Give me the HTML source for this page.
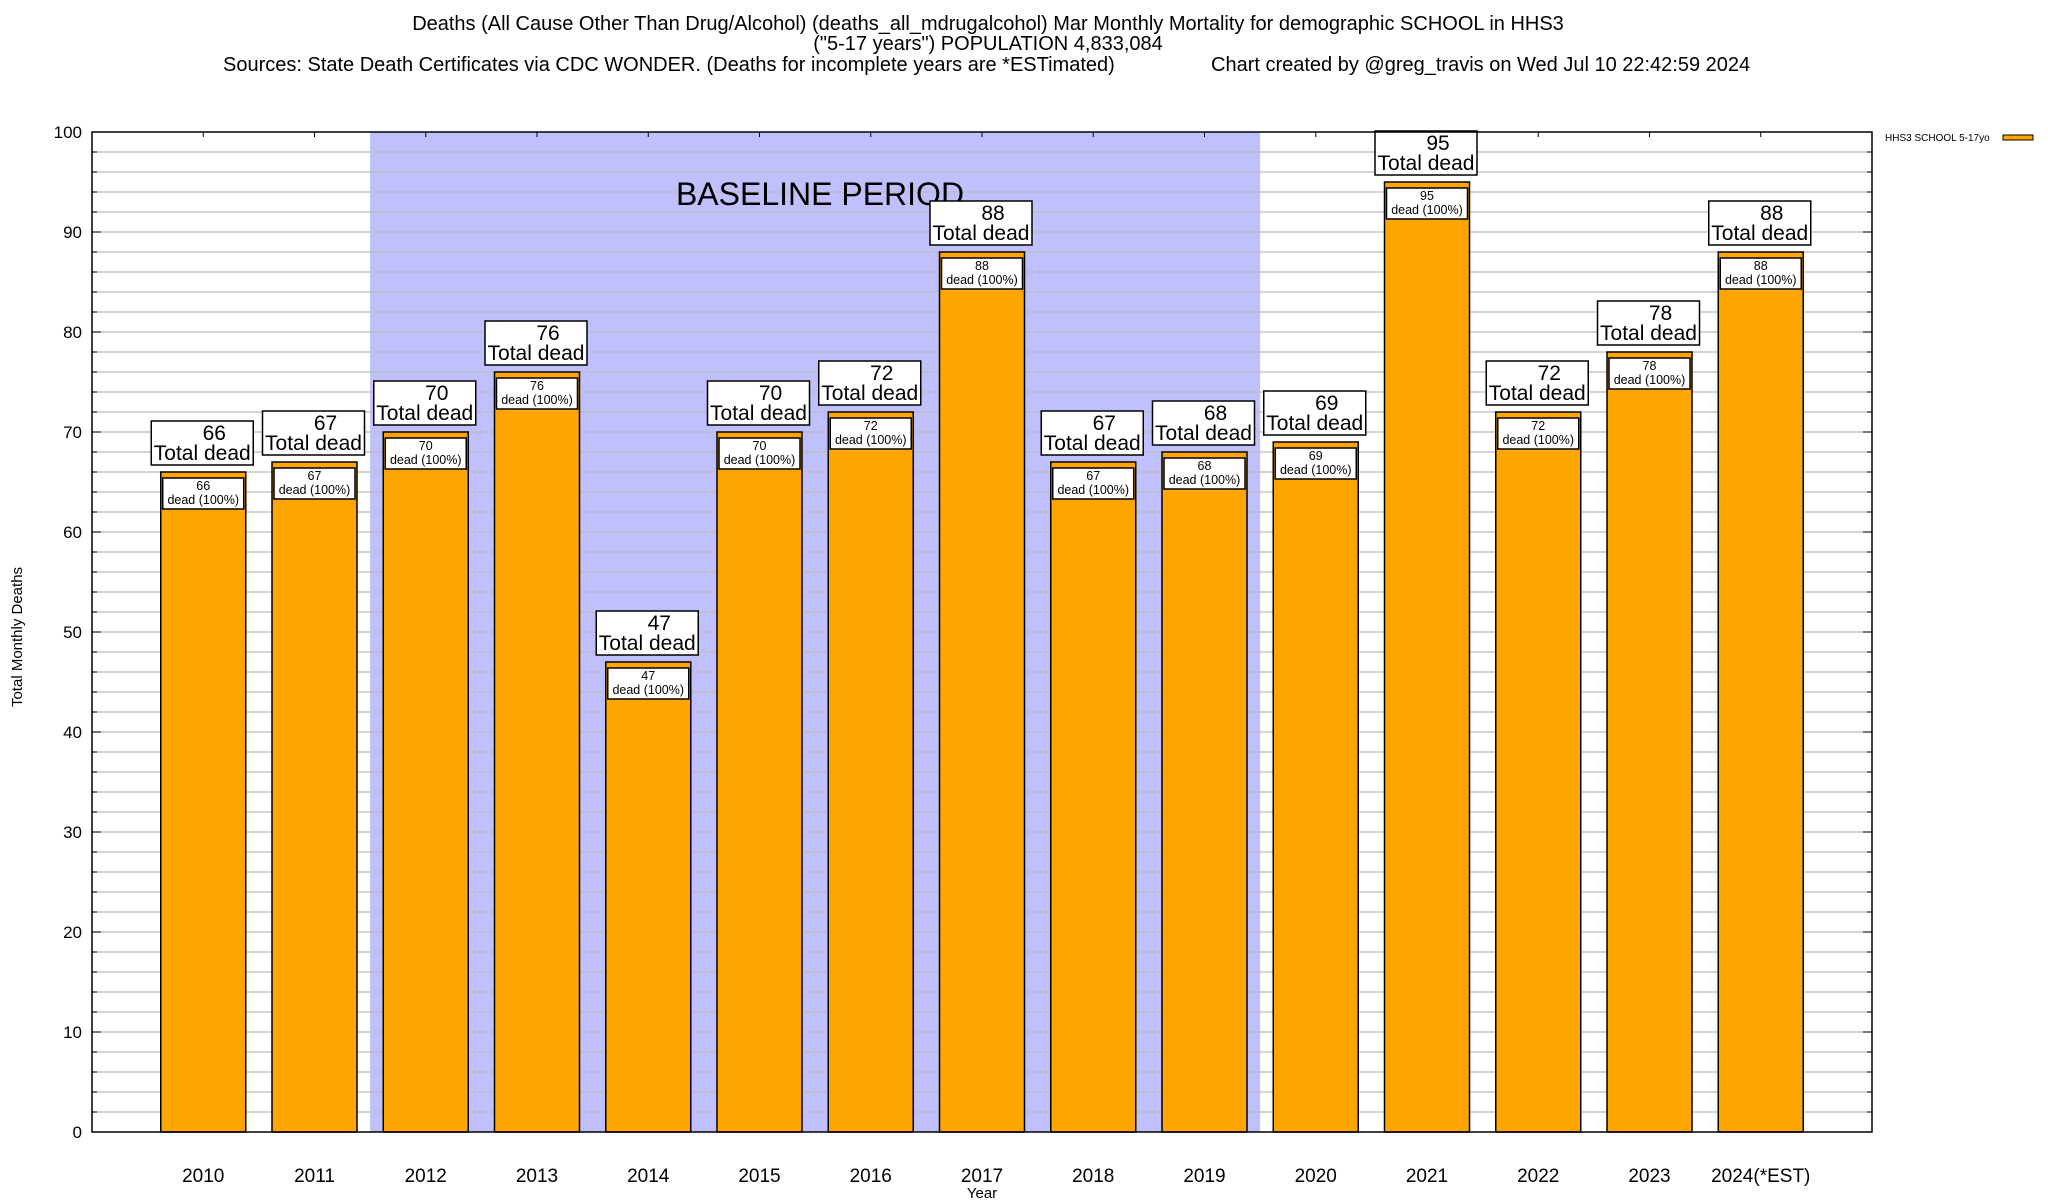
<!DOCTYPE html>
<html><head><meta charset="utf-8">
<style>
html,body{margin:0;padding:0;background:#fff;}
svg{display:block;font-family:"Liberation Sans",Arial,sans-serif;}
</style></head>
<body>
<svg id="chart" width="2048" height="1200" viewBox="0 0 2048 1200">
  <g font-size="20" text-anchor="middle">
    <text x="988" y="30">Deaths (All Cause Other Than Drug/Alcohol) (deaths_all_mdrugalcohol) Mar Monthly Mortality for demographic SCHOOL in HHS3</text>
    <text x="988" y="50">("5-17 years") POPULATION 4,833,084</text>
    <text x="223" y="71" text-anchor="start">Sources: State Death Certificates via CDC WONDER. (Deaths for incomplete years are *ESTimated)</text>
    <text x="1211" y="71" text-anchor="start">Chart created by @greg_travis on Wed Jul 10 22:42:59 2024</text>
  </g>
  <g id="plot"></g>
  <text x="22" y="637" font-size="15" text-anchor="middle" transform="rotate(-90 22 637)">Total Monthly Deaths</text>
  <text x="982" y="1198" font-size="15" text-anchor="middle">Year</text>
  <g>
    <text x="1885" y="141" font-size="10">HHS3 SCHOOL 5-17yo</text>
    <rect x="2003" y="135" width="30" height="5" fill="#ffa500" stroke="#000" stroke-width="1"></rect>
  </g>
</svg>
<script>
const categories = ["2010","2011","2012","2013","2014","2015","2016","2017","2018","2019","2020","2021","2022","2023","2024(*EST)"];
const deaths = [66,67,70,76,47,70,72,88,67,68,69,95,72,78,88];
const yTicks = [0,10,20,30,40,50,60,70,80,90,100];
const baselineRange = [1.5, 9.5];

const L=92,R=1872,T=132,B=1132;
const xMin=-1,xMax=15,yMin=0,yMax=100;
const xs=v=>L+(v-xMin)/(xMax-xMin)*(R-L);
const ys=v=>B-(v-yMin)/(yMax-yMin)*(B-T);
const NS="http://www.w3.org/2000/svg";
const plot=document.getElementById('plot');
function mk(tag,attrs,parent,text){const e=document.createElementNS(NS,tag);for(const k in attrs)e.setAttribute(k,attrs[k]);if(text!==undefined)e.textContent=text;(parent||plot).appendChild(e);return e;}

let sh=mk('rect',{x:xs(baselineRange[0]),y:T,width:xs(baselineRange[1])-xs(baselineRange[0]),height:B-T,fill:'#c0c0ff'});


for(let v=2;v<100;v+=2){
  let g=mk('line',{x1:L,x2:R,y1:ys(v),y2:ys(v),stroke:'#bbbbbb','stroke-width':1.3});
  
  
  let tl=mk('line',{x1:L,x2:L+(v%10?5:9),y1:ys(v),y2:ys(v),stroke:'#000'});
  
  
  let tr=mk('line',{x1:R,x2:R-(v%10?5:9),y1:ys(v),y2:ys(v),stroke:'#000'});
  
  
}
let bt=mk('text',{x:820,y:205,'font-size':32,'text-anchor':'middle'},plot,'BASELINE PERIOD');



yTicks.forEach(v=>{
  let t=mk('text',{x:82,y:ys(v)+6,'font-size':17,'text-anchor':'end'},plot,String(v));
  
  
});

categories.forEach((c,i)=>{
  const cx=xs(i),w=85,top=ys(deaths[i]);
  let tk=mk('line',{x1:cx,x2:cx,y1:T,y2:T+5,stroke:'#000'});
  
  
  let b=mk('rect',{x:cx-w/2,y:top,width:w,height:B-top,fill:'#ffa500',stroke:'#000','stroke-width':1.5});
  
  
  let ib=mk('rect',{x:cx-w/2+2,y:top+6,width:w-4,height:31,fill:'#fff',stroke:'#000','stroke-width':1.5});
  
  
  let it1=mk('text',{x:cx,y:top+18,'font-size':12.5,'text-anchor':'middle'},plot,String(deaths[i]));
  
  
  let it2=mk('text',{x:cx,y:top+32,'font-size':12.5,'text-anchor':'middle'},plot,'dead (100%)');
  
  
  let ob=mk('rect',{x:cx-52,y:top-51,width:102,height:44,fill:'#fff',stroke:'#000','stroke-width':1.5});
  
  
  let ot1=mk('text',{x:cx+11,y:top-32,'font-size':21,'text-anchor':'middle'},plot,String(deaths[i]));
  
  
  let ot2=mk('text',{x:cx-1,y:top-12,'font-size':21,'text-anchor':'middle'},plot,'Total dead');
  
  
  let xl=mk('text',{x:cx,y:1182,'font-size':19,'text-anchor':'middle'},plot,c);
  
  
});
let fr=mk('rect',{x:L,y:T,width:R-L,height:B-T,fill:'none',stroke:'#000','stroke-width':1.5});


</script>
</body></html>
